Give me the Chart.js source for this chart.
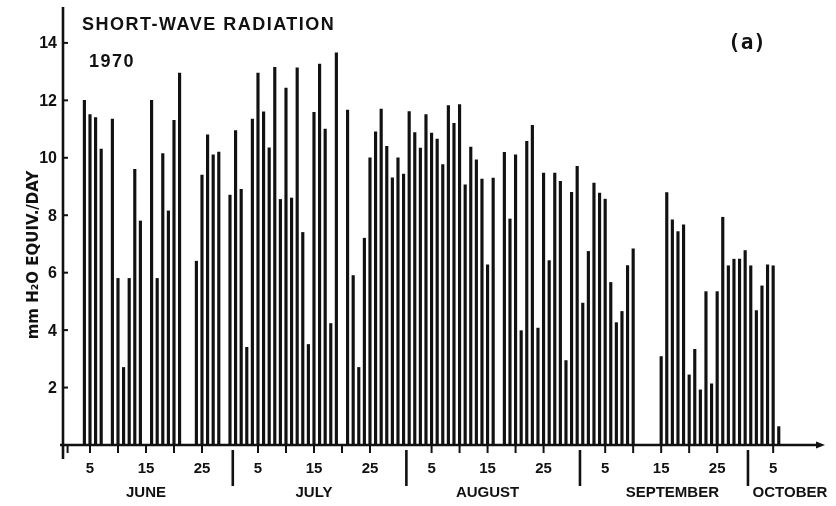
<!DOCTYPE html>
<html>
<head>
<meta charset="utf-8">
<script src="https://cdn.jsdelivr.net/npm/chart.js@4"></script>
<style>
  html, body { margin: 0; padding: 0; background: #fff; }
  #wrap { width: 836px; height: 506px; }
</style>
</head>
<body>
<div id="wrap"><canvas id="radiationChart" width="836" height="506"></canvas></div>
<script>
// Daily short-wave radiation, mm H2O equiv. per day, one entry per calendar day (null = no record)
const juneValues = [
  null, null, null, 12.0, 11.5, 11.4, 10.3, null, 11.35, 5.8,
  2.7, 5.8, 9.6, 7.8, null, 12.0, 5.8, 10.15, 8.15, 11.3,
  12.95, null, null, 6.4, 9.4, 10.8, 10.1, 10.2, null, 8.7,
]
const julyValues = [
  10.95, 8.9, 3.4, 11.35, 12.95, 11.6, 10.35, 13.15, 8.55, 12.43,
  8.6, 13.13, 7.4, 3.5, 11.58, 13.26, 11.0, 4.23, 13.65, null,
  11.66, 5.9, 2.7, 7.2, 10.0, 10.9, 11.7, 10.4, 9.3, 10.0,
  9.43,
]
const augustValues = [
  11.61, 10.88, 10.34, 11.5, 10.86, 10.65, 9.76, 11.82, 11.2, 11.85,
  9.06, 10.37, 9.93, 9.26, 6.27, 9.29, null, 10.19, 7.87, 10.1,
  3.98, 10.57, 11.13, 4.07, 9.47, 6.42, 9.47, 9.18, 2.94, 8.8,
  9.7,
]
const septemberValues = [
  4.94, 6.74, 9.12, 8.77, 8.56, 5.66, 4.26, 4.65, 6.25, 6.83,
  null, null, null, null, 3.08, 8.79, 7.84, 7.43, 7.67, 2.44,
  3.33, 1.92, 5.34, 2.13, 5.34, 7.93, 6.24, 6.47, 6.47, 6.77,
]
const octoberValues = [6.24, 4.68, 5.54, 6.27, 6.24, 0.64]

const monthNames = ["JUNE", "JULY", "AUGUST", "SEPTEMBER", "OCTOBER"]
const monthSeries = [juneValues, julyValues, augustValues, septemberValues, octoberValues]
// day number (June 1 = 1) of the day before each month starts
const monthStarts = [0, 30, 61, 92, 122]
const monthLabelDays = [15, 15, 15, 17, 8]

const yTickValues = [2, 4, 6, 8, 10, 12, 14]
const dayTickLabels = [5, 15, 25]
const dayTickMarks = [5, 10, 15, 20, 25]

const titleText = "SHORT-WAVE RADIATION"
const yearText = "1970"
const panelText = "(a)"
const yAxisText = "mm H\u2082O EQUIV./DAY"

// flatten months into {x: day number, y: value}
const points = []
monthSeries.forEach((values, m) => {
  values.forEach((v, i) => {
    if (v !== null) points.push({ x: monthStarts[m] + i + 1, y: v })
  })
})

const INK = "#111"
const BOLD = "bold 16px 'Liberation Sans', Arial, sans-serif"

function line(ctx, x1, y1, x2, y2) {
  ctx.beginPath()
  ctx.moveTo(x1, y1)
  ctx.lineTo(x2, y2)
  ctx.stroke()
}

const axesPlugin = {
  id: "handAxes",
  afterDraw(chart) {
    const { ctx, chartArea } = chart
    const { x, y } = chart.scales
    const left = chartArea.left
    const base = y.getPixelForValue(0)

    ctx.save()
    ctx.strokeStyle = INK
    ctx.fillStyle = INK
    ctx.lineCap = "butt"

    // axes
    ctx.lineWidth = 2.6
    line(ctx, left, chartArea.top, left, base + 14)
    line(ctx, left - 3, base, chartArea.right - 4, base)
    ctx.beginPath()
    ctx.moveTo(chartArea.right + 2, base)
    ctx.lineTo(chartArea.right - 7, base - 3.5)
    ctx.lineTo(chartArea.right - 7, base + 3.5)
    ctx.closePath()
    ctx.fill()

    // y ticks point into the plot
    ctx.lineWidth = 2
    ctx.font = BOLD
    ctx.textAlign = "right"
    ctx.textBaseline = "middle"
    yTickValues.forEach((v) => {
      const py = y.getPixelForValue(v)
      line(ctx, left, py, left + 5, py)
      ctx.fillText(String(v), left - 6, py + 1)
    })

    // day ticks below the axis
    const tickDays = [1]
    monthStarts.forEach((start, m) => {
      dayTickMarks.forEach((d) => {
        if (m < 4 || d <= 5) tickDays.push(start + d)
      })
    })
    tickDays.forEach((d) => {
      const px = x.getPixelForValue(d)
      line(ctx, px, base, px, base + 8)
    })

    ctx.textAlign = "center"
    ctx.textBaseline = "alphabetic"
    ctx.font = "bold 15px 'Liberation Sans', Arial, sans-serif"
    monthStarts.forEach((start, m) => {
      dayTickLabels.forEach((d) => {
        if (m < 4 || d <= 5) ctx.fillText(String(d), x.getPixelForValue(start + d), base + 28)
      })
      ctx.fillText(monthNames[m], x.getPixelForValue(start + monthLabelDays[m]), base + 52)
    })

    // month separators
    ctx.lineWidth = 2.6
    monthStarts.slice(1).forEach((start) => {
      const px = x.getPixelForValue(start + 0.5)
      line(ctx, px, base + 5, px, base + 41)
    })

    // titles
    ctx.textAlign = "left"
    ctx.font = "bold 18px 'Liberation Sans', Arial, sans-serif"
    ctx.letterSpacing = "1.5px"
    ctx.fillText(titleText, 82, 30)
    ctx.fillText(yearText, 89, 67)
    ctx.letterSpacing = "0px"
    ctx.font = "bold 21px 'DejaVu Sans Mono', monospace"
    ctx.fillText(panelText, 728, 49)

    // y axis title
    ctx.save()
    ctx.translate(38, 255)
    ctx.rotate(-Math.PI / 2)
    ctx.textAlign = "center"
    ctx.font = "bold 15px 'DejaVu Sans', sans-serif"
    ctx.fillText(yAxisText, 0, 0)
    ctx.restore()

    ctx.restore()
  },
}

const ctx = document.getElementById("radiationChart").getContext("2d")
new Chart(ctx, {
  type: "bar",
  data: {
    datasets: [
      {
        data: points,
        backgroundColor: INK,
        borderWidth: 0,
        barThickness: 2.5,
      },
    ],
  },
  options: {
    responsive: false,
    animation: false,
    layout: { padding: { left: 63, right: 13, top: 7, bottom: 61 } },
    plugins: {
      legend: { display: false },
      tooltip: { enabled: false },
    },
    scales: {
      x: { type: "linear", min: 0.18, max: 135.9, offset: false, display: false },
      y: { min: 0, max: 15.25, display: false },
    },
  },
  plugins: [axesPlugin],
})
</script>
</body>
</html>
